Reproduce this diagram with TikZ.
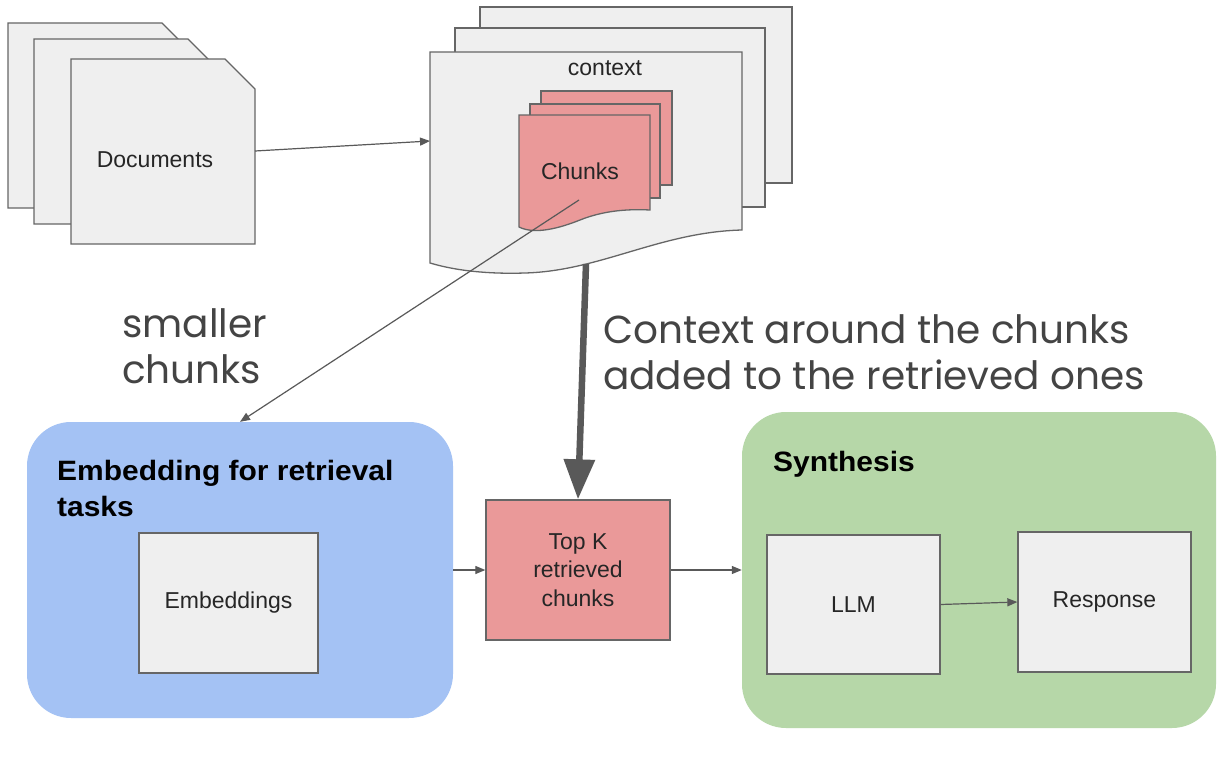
\documentclass[tikz,border=0pt]{standalone}
\usepackage{fontspec}
\setmainfont{Liberation Sans}
\newfontfamily\popfont{Poppins}
\newfontfamily\headfont{Liberation Sans}[FakeStretch=1.07]
\usetikzlibrary{arrows.meta,positioning}
\definecolor{pagefill}{HTML}{EFEFEF}
\definecolor{pageline}{HTML}{666666}
\definecolor{chunkfill}{HTML}{EA9999}
\definecolor{embedfill}{HTML}{A4C2F4}
\definecolor{synthfill}{HTML}{B6D7A8}
\definecolor{linegray}{HTML}{595959}
\definecolor{notegray}{HTML}{444444}
\tikzset{%
    docpage/.style={%
        draw=pageline, fill=pagefill, line width=1.3pt
    },
    chunkpage/.style={%
        draw=pageline, fill=chunkfill, line width=1.3pt
    },
    hit/.style={%
        inner sep=0pt, outer sep=0pt
    },
    boxtxt/.style={%
        font=\fontsize{23}{28.5}\selectfont, text=black!85, align=center
    },
    entity/.style={%
        rectangle, draw=pageline, fill=pagefill, line width=1.3pt, boxtxt, inner sep=0pt
    },
    topk/.style={%
        rectangle, draw=pageline, fill=chunkfill, line width=1.3pt, boxtxt, inner sep=0pt
    },
    group/.style={%
        rectangle, rounded corners=44pt, inner sep=0pt
    },
    grouptitle/.style={%
        font=\headfont\bfseries\fontsize{28}{36}\selectfont, align=left, anchor=north west, inner sep=0pt
    },
    note/.style={%
        font=\popfont\fontsize{39}{46}\selectfont, text=notegray, align=left, anchor=north west, inner sep=0pt
    },
    com/.style={%
        draw=linegray, line width=1.2pt, -{Triangle[length=10pt,width=8pt]}
    },
    bigcom/.style={%
        draw=linegray, line width=6.5pt, -{Triangle[length=40pt,width=30pt]}
    },
}

\begin{document}
\begin{tikzpicture}[x=1pt,y=-1pt]
    \fill[white] (0,0) rectangle (1224,760);
    \useasboundingbox (0,0) rectangle (1224,760);

    % documents
    \foreach \x/\y in {8/23,34/39,71/59}
        \draw[docpage] (\x,\y) -- ++(154,0) -- ++(30,30) -- ++(0,155) -- ++(-184,0) -- cycle;
    \node[hit, minimum width=184pt, minimum height=185pt] (docs) at (163,151) {};
    \node[boxtxt] (doclabel) at (155,160) {Documents};

    % context pages
    \foreach \x/\y/\xx/\yy in {480/7/792/183,455/28/765/207}
        \draw[docpage] (\x,\y) rectangle (\xx,\yy);
    \draw[docpage] (430,52) -- (742,52) -- (742,230)
        .. controls (660,232) and (600,271) .. (525,273)
        .. controls (495,274) and (460,272) .. (430,263) -- cycle;
    \node[hit, minimum width=312pt, minimum height=178pt] (ctx) at (586,141) {};
    \node[boxtxt] (ctxlabel) at (605,68) {context};

    % chunks
    \foreach \x/\y/\xx/\yy in {541/91/672/185,530/104/660/198}
        \draw[chunkpage] (\x,\y) rectangle (\xx,\yy);
    \draw[chunkpage] (519,115) -- (650,115) -- (650,210)
        .. controls (630,209) and (605,210) .. (580,220)
        .. controls (560,228) and (535,235) .. (519,227) -- cycle;
    \node[boxtxt] (chunks) at (580,171) {Chunks};
    \coordinate (chunkpt) at (579,200);
    \coordinate (ctxbot) at (586,264);

    % groups
    \node[group, fill=embedfill, minimum width=426pt, minimum height=296pt] (embed) at (240,570) {};
    \node[grouptitle] (embedtitle) at (57,460) {Embedding for retrieval\\tasks};
    \node[entity, minimum width=179pt, minimum height=140pt] (embeddings) at (228.5,603) {Embeddings};

    \node[group, fill=synthfill, minimum width=474pt, minimum height=316pt] (synth) at (979,570) {};
    \node[grouptitle] (synthtitle) at (773,451) {Synthesis};
    \node[entity, minimum width=173pt, minimum height=139pt] (llm) at (853.5,604.5) {LLM};
    \node[entity, minimum width=173pt, minimum height=140pt] (response) at (1104.5,602) {Response};

    \node[topk, minimum width=184pt, minimum height=140pt] (topk) at (578,570) {Top K\\retrieved\\chunks};

    % notes
    \node[note] (smallnote) at (122,308) {smaller\\chunks};
    \node[note] (ctxnote) at (603,314) {Context around the chunks\\added to the retrieved ones};

    % connectors
    \draw[com] (docs.east) -- (ctx.west);
    \draw[com] (chunkpt) -- (embed.north);
    \draw[bigcom] (ctxbot) -- (topk.north);
    \draw[com] (embed.east) -- (topk.west);
    \draw[com] (topk.east) -- (synth.west);
    \draw[com] (llm.east) -- (response.west);
\end{tikzpicture}
\end{document}
